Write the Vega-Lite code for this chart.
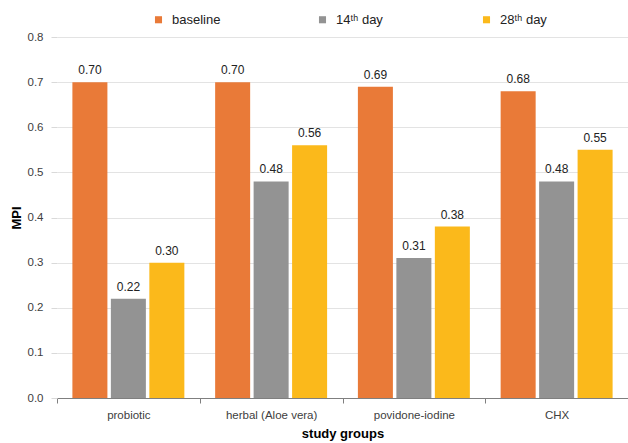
{
  "$schema": "https://vega.github.io/schema/vega-lite/v6.json",
  "width": 571,
  "height": 361,
  "autosize": {"type": "none"},
  "padding": {"left": 57, "top": 37, "right": 0, "bottom": 45},
  "config": {
    "font": "Liberation Sans",
    "view": {"stroke": null},
    "axis": {"labelFont": "Liberation Sans", "titleFont": "Liberation Sans"}
  },
  "data": {
    "values": [
      {"group": "probiotic", "time": "baseline", "mpi": 0.70},
      {"group": "probiotic", "time": "14ᵗʰ day", "mpi": 0.22},
      {"group": "probiotic", "time": "28ᵗʰ day", "mpi": 0.30},
      {"group": "herbal (Aloe vera)", "time": "baseline", "mpi": 0.70},
      {"group": "herbal (Aloe vera)", "time": "14ᵗʰ day", "mpi": 0.48},
      {"group": "herbal (Aloe vera)", "time": "28ᵗʰ day", "mpi": 0.56},
      {"group": "povidone-iodine", "time": "baseline", "mpi": 0.69},
      {"group": "povidone-iodine", "time": "14ᵗʰ day", "mpi": 0.31},
      {"group": "povidone-iodine", "time": "28ᵗʰ day", "mpi": 0.38},
      {"group": "CHX", "time": "baseline", "mpi": 0.68},
      {"group": "CHX", "time": "14ᵗʰ day", "mpi": 0.48},
      {"group": "CHX", "time": "28ᵗʰ day", "mpi": 0.55}
    ]
  },
  "encoding": {
    "x": {
      "field": "group",
      "type": "nominal",
      "sort": null,
      "scale": {"paddingInner": 0, "paddingOuter": 0},
      "axis": {
        "title": "study groups",
        "titleFontWeight": "bold",
        "titleFontSize": 13,
        "titleColor": "#000000",
        "titlePadding": 7,
        "labelAngle": 0,
        "labelFontSize": 11.5,
        "labelColor": "#404040",
        "labelPadding": 6,
        "tickBand": "extent",
        "tickSize": 5,
        "tickColor": "#7f7f7f",
        "domainColor": "#7f7f7f",
        "grid": false
      }
    },
    "xOffset": {
      "field": "time",
      "type": "nominal",
      "sort": ["baseline", "14ᵗʰ day", "28ᵗʰ day"],
      "scale": {"paddingInner": 0.09, "paddingOuter": 0.4}
    },
    "y": {
      "field": "mpi",
      "type": "quantitative",
      "scale": {"domain": [0, 0.8]},
      "axis": {
        "title": "MPI",
        "titleFontWeight": "bold",
        "titleFontSize": 13,
        "titleColor": "#000000",
        "titlePadding": 4,
        "format": ".1f",
        "values": [0, 0.1, 0.2, 0.3, 0.4, 0.5, 0.6, 0.7, 0.8],
        "labelOverlap": false,
        "labelFontSize": 11.5,
        "labelColor": "#404040",
        "labelPadding": 8,
        "domain": false,
        "tickSize": 6,
        "tickColor": "#d9d9d9",
        "gridColor": "#e3e3e3"
      }
    }
  },
  "layer": [
    {
      "mark": {"type": "bar"},
      "encoding": {
        "color": {
          "field": "time",
          "type": "nominal",
          "sort": ["baseline", "14ᵗʰ day", "28ᵗʰ day"],
          "scale": {
            "domain": ["baseline", "14ᵗʰ day", "28ᵗʰ day"],
            "range": ["#E97A38", "#939393", "#FBB91B"]
          },
          "legend": {
            "title": null,
            "orient": "none",
            "direction": "horizontal",
            "legendX": 95,
            "legendY": -24,
            "padding": 0,
            "symbolType": "square",
            "symbolSize": 50,
            "symbolStrokeWidth": 0,
            "labelFontSize": 13,
            "labelColor": "#222222",
            "labelOffset": 7,
            "gridAlign": "all",
            "columnPadding": 95
          }
        }
      }
    },
    {
      "mark": {"type": "text", "baseline": "bottom", "dy": -5, "fontSize": 12, "color": "#222222"},
      "encoding": {
        "text": {"field": "mpi", "type": "quantitative", "format": ".2f"}
      }
    }
  ]
}
